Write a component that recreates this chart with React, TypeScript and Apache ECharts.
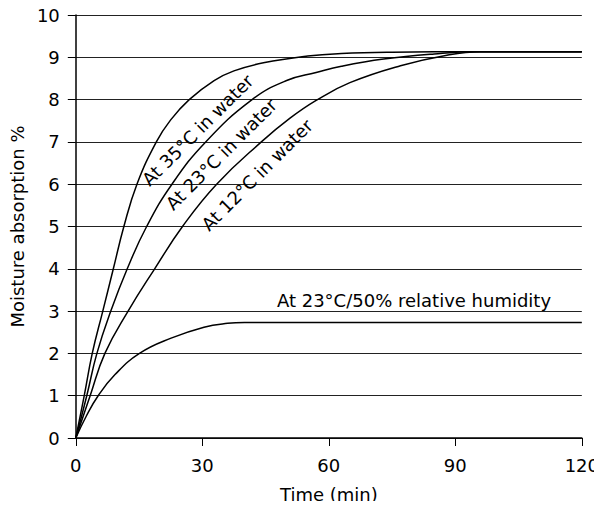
import React, { useEffect, useRef } from "react";
import * as echarts from "echarts";

const xTicks = [0, 30, 60, 90, 120];
const yTicks = [0, 1, 2, 3, 4, 5, 6, 7, 8, 9, 10];

const water35: [number, number][] = [
  [0, 0], [2, 1], [3.9, 2], [6.4, 3], [8.9, 4], [11.4, 5], [14.5, 6], [19.1, 7],
  [22.5, 7.52], [26.9, 8], [32.8, 8.45], [37.5, 8.68], [44.5, 8.87], [55, 9.03],
  [63, 9.09], [75, 9.12], [95, 9.13], [120, 9.13],
];
const water23: [number, number][] = [
  [0, 0], [2.6, 1], [5, 2], [8.3, 3], [12.2, 4], [16.8, 5], [22.8, 6], [30.8, 7],
  [41.8, 8], [50, 8.45], [57, 8.64], [63, 8.79], [73, 8.96], [85, 9.08], [95, 9.13], [120, 9.13],
];
const water12: [number, number][] = [
  [0, 0], [3.4, 1], [6.9, 2], [12.4, 3], [18.7, 4], [25.3, 5], [33.4, 6], [44, 7],
  [50.8, 7.56], [57, 7.98], [65, 8.4], [77, 8.8], [88, 9.05], [96, 9.13], [120, 9.13],
];
const humid23: [number, number][] = [
  [0, 0], [2.5, 0.52], [5.3, 1], [9.3, 1.5], [15.1, 2], [22.6, 2.36], [30.4, 2.62],
  [36, 2.71], [40, 2.73], [120, 2.73],
];

const labels = [
  { text: "At 35°C in water", at: [28.9, 7.28], rot: 45 },
  { text: "At 23°C in water", at: [34.5, 6.71], rot: 45 },
  { text: "At 12°C in water", at: [43, 6.22], rot: 45 },
  { text: "At 23°C/50% relative humidity", at: [80.2, 3.26], rot: 0 },
];

const FONT = "DejaVu Sans";

export default function App() {
  const ref = useRef<HTMLDivElement>(null);
  useEffect(() => {
    if (!ref.current) return;
    const chart = echarts.init(ref.current, undefined, { renderer: "svg" });
    const lineSeries = (name: string, data: [number, number][]) => ({
      name,
      type: "line",
      data,
      smooth: 0.45,
      symbol: "none",
      lineStyle: { color: "#000", width: 1.5 },
    });
    chart.setOption({
      animation: false,
      backgroundColor: "#fff",
      grid: { left: 74, right: 18, top: 15, bottom: 71, containLabel: false },
      xAxis: {
        type: "value",
        min: xTicks[0],
        max: xTicks[xTicks.length - 1],
        interval: 30,
        name: "Time (min)",
        nameLocation: "middle",
        nameGap: 47,
        nameTextStyle: { fontFamily: FONT, fontSize: 18, color: "#000" },
        axisLine: { show: true, lineStyle: { color: "#000", width: 1.5 } },
        axisTick: { show: true, length: 8, lineStyle: { color: "#000" } },
        axisLabel: { margin: 18, fontFamily: FONT, fontSize: 18, color: "#000" },
        splitLine: { show: false },
      },
      yAxis: {
        type: "value",
        min: yTicks[0],
        max: yTicks[yTicks.length - 1],
        interval: 1,
        name: "Moisture absorption %",
        nameLocation: "middle",
        nameGap: 48,
        nameRotate: 90,
        nameTextStyle: { fontFamily: FONT, fontSize: 18, color: "#000" },
        axisLine: { show: true, lineStyle: { color: "#000", width: 1.5 } },
        axisTick: { show: true, length: 8, lineStyle: { color: "#000" } },
        axisLabel: { margin: 16, fontFamily: FONT, fontSize: 18, color: "#000" },
        splitLine: { show: true, lineStyle: { color: "#222", width: 1 } },
      },
      series: [
        lineSeries("35", water35),
        lineSeries("23", water23),
        lineSeries("12", water12),
        lineSeries("rh", humid23),
      ],
    });
    const graphic = labels.map((l) => {
      const p = chart.convertToPixel({ gridIndex: 0 }, l.at) as number[];
      return {
        type: "text",
        x: p[0],
        y: p[1],
        rotation: (l.rot * Math.PI) / 180,
        style: {
          text: l.text,
          fontFamily: FONT,
          fontSize: 18,
          fill: "#000",
          align: "center",
          verticalAlign: "middle",
        },
      };
    });
    chart.setOption({ graphic });
    return () => chart.dispose();
  }, []);
  return <div ref={ref} style={{ width: 602, height: 509, margin: -8 }} />;
}
